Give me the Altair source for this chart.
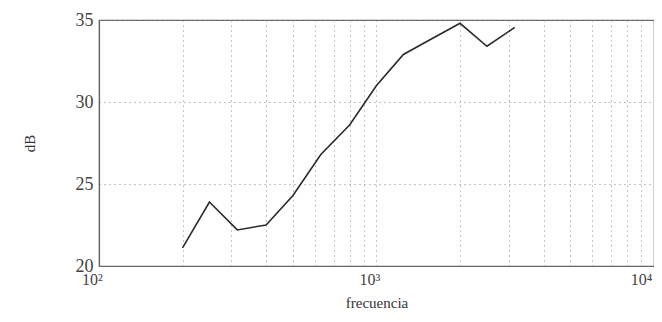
import altair as alt
import pandas as pd

freq = [200, 250, 315, 400, 500, 630, 800, 1000, 1250, 1600, 2000, 2500, 3150]
db = [21.1, 23.9, 22.2, 22.5, 24.3, 26.8, 28.6, 31.0, 32.9, 33.9, 34.8, 33.4, 34.55]

x_grid = [100, 200, 300, 400, 500, 600, 700, 800, 900,
          1000, 2000, 3000, 4000, 5000, 6000, 7000, 8000, 9000, 10000]
y_ticks = [20, 25, 30, 35]

df = pd.DataFrame({"frecuencia": freq, "dB": db})

font = "Liberation Serif"

chart = alt.Chart(df).mark_line(color="#2a2a2a", strokeWidth=1.6).encode(
    x=alt.X("frecuencia:Q",
            scale=alt.Scale(type="log", domain=[100, 10000], nice=False),
            axis=alt.Axis(values=x_grid,
                          labelExpr="datum.value == 100 ? '10²' : datum.value == 1000 ? '10³' : datum.value == 10000 ? '10⁴' : ''",
                          title="frecuencia", titleFont=font, titleFontSize=15,
                          titleFontWeight="normal", titleColor="#333",
                          titlePadding=8,
                          labelFont=font, labelFontSize=16, labelColor="#444",
                          labelOffset={"condition": {"test": "datum.value >= 10000", "value": -13}, "value": -7},
                          labelPadding=5, labelFlush=False,
                          ticks=False, domain=True, domainColor="#666",
                          domainWidth=1.2,
                          grid=True, gridDash=[1, 4], gridColor="#888",
                          gridWidth=1, labelOverlap=False)),
    y=alt.Y("dB:Q",
            scale=alt.Scale(domain=[20, 35], nice=False, zero=False),
            axis=alt.Axis(values=y_ticks, title="dB", titleFont=font,
                          titleFontSize=15, titleFontWeight="normal",
                          titleColor="#333", titlePadding=38,
                          labelFont=font, labelFontSize=18, labelColor="#444",
                          labelPadding=6, labelFlush=False,
                          ticks=False, domain=True, domainColor="#666",
                          domainWidth=1.2,
                          grid=True, gridDash=[1, 4], gridColor="#888",
                          gridWidth=1)),
).properties(
    width=555, height=246,
    autosize=alt.AutoSizeParams(type="none"),
    padding={"left": 91, "top": 12, "right": 0, "bottom": 44},
).configure_view(stroke="#666", strokeWidth=1.2)

chart.save("out.html", embed_options={"renderer": "svg", "actions": False})
